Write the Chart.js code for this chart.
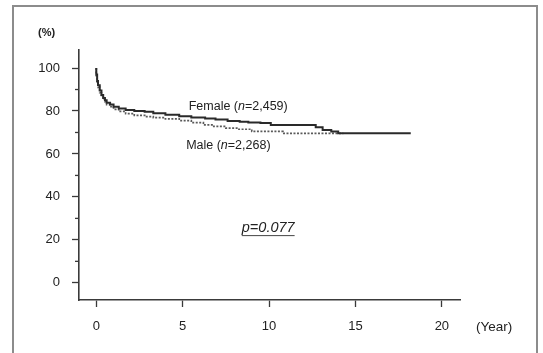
<!DOCTYPE html>
<html>
<head>
<meta charset="utf-8">
<script src="https://cdn.jsdelivr.net/npm/chart.js@4.4.1/dist/chart.umd.min.js"></script>
<style>
  body { margin: 0; background: #fff; }
  #wrap { position: relative; width: 543px; height: 353px; overflow: hidden; }
  #frame { position: absolute; left: 12px; top: 5px; width: 522px; height: 360px; border: 2px solid #8c8c8c; }
  canvas { position: absolute; left: 0; top: 0; }
</style>
</head>
<body>
<div id="wrap">
  <div id="frame"></div>
  <canvas id="kmChart" width="543" height="353"></canvas>
</div>
<script>
// survival curves (years, % surviving)
const femaleYears = [0, 0.05, 0.1, 0.2, 0.3, 0.4, 0.5, 0.6, 0.8, 1.0, 1.3, 1.7, 2.2, 2.8, 3.3, 4.0, 4.8, 5.5, 6.3, 6.9, 7.6, 8.3, 8.8, 9.5, 10.1, 12.7, 13.1, 13.6, 14.0, 14.3, 18.2];
const femaleSurvival = [100, 97, 94, 92, 89.5, 87.5, 86, 85, 83.8, 83, 82, 81.2, 80.5, 80.0, 79.6, 79.0, 78.2, 77.6, 77.0, 76.5, 76.0, 75.4, 75.0, 74.7, 74.4, 73.5, 72.4, 71.2, 70.4, 69.6, 69.6];
const maleYears = [0, 0.05, 0.1, 0.2, 0.3, 0.4, 0.5, 0.6, 0.8, 1.0, 1.3, 1.7, 2.2, 2.8, 3.3, 4.0, 4.8, 5.5, 6.2, 6.8, 7.5, 8.2, 9.0, 10.8, 11.0, 14.3];
const maleSurvival = [100, 96.5, 93.5, 91, 88.5, 86.8, 85.5, 84.3, 83, 82, 80.8, 79.8, 78.8, 78.0, 77.4, 76.9, 76.3, 75.5, 74.6, 73.5, 72.8, 72.0, 71.5, 70.5, 69.6, 69.6];

const xTickValues = [0, 5, 10, 15, 20];
const yTickValues = [0, 10, 20, 30, 40, 50, 60, 70, 80, 90, 100];
const yLabelEvery = 20;

const toPoints = (xs, ys) => xs.map((x, i) => ({ x: x, y: ys[i] }));

const textColor = '#222';
const axisColor = '#3a3a3a';
const fontFamily = '"Liberation Sans", Arial, sans-serif';

// labels written into the plot, plus short minor ticks on the y axis
const annotations = {
  id: 'annotations',
  afterDraw(chart) {
    const ctx = chart.ctx;
    const xs = chart.scales.x;
    const ys = chart.scales.y;
    ctx.save();
    ctx.fillStyle = textColor;
    ctx.textBaseline = 'middle';

    // minor ticks
    ctx.strokeStyle = axisColor;
    ctx.lineWidth = 1.3;
    yTickValues.filter(v => v % yLabelEvery !== 0).forEach(v => {
      const py = ys.getPixelForValue(v);
      ctx.beginPath();
      ctx.moveTo(ys.right - 4, py);
      ctx.lineTo(ys.right, py);
      ctx.stroke();
    });

    const drawLabel = (x, y, name, n) => {
      let px = xs.getPixelForValue(x);
      const py = ys.getPixelForValue(y);
      ctx.textAlign = 'left';
      ctx.font = '12.5px ' + fontFamily;
      ctx.fillText(name + ' (', px, py);
      px += ctx.measureText(name + ' (').width;
      ctx.font = 'italic 12.5px ' + fontFamily;
      ctx.fillText('n', px, py);
      px += ctx.measureText('n').width;
      ctx.font = '12.5px ' + fontFamily;
      ctx.fillText('=' + n + ')', px, py);
    };
    drawLabel(5.35, 82, 'Female', '2,459');
    drawLabel(5.2, 63.9, 'Male', '2,268');

    // p value
    ctx.font = 'italic 14.5px ' + fontFamily;
    ctx.textAlign = 'center';
    const cx = xs.getPixelForValue(9.95);
    const cy = ys.getPixelForValue(25.7);
    ctx.fillText('p=0.077', cx, cy);
    const w = ctx.measureText('p=0.077').width;
    ctx.strokeStyle = '#444';
    ctx.lineWidth = 1;
    ctx.beginPath();
    ctx.moveTo(cx - w / 2, cy + 8);
    ctx.lineTo(cx + w / 2, cy + 8);
    ctx.stroke();

    // axis units
    ctx.font = '13.5px ' + fontFamily;
    ctx.textAlign = 'left';
    ctx.fillText('(Year)', 476, 327);
    ctx.font = 'bold 11px ' + fontFamily;
    ctx.fillText('(%)', 38, 33);
    ctx.restore();
  }
};

new Chart(document.getElementById('kmChart').getContext('2d'), {
  type: 'line',
  data: {
    datasets: [{
      label: 'Female',
      data: toPoints(femaleYears, femaleSurvival),
      borderColor: '#2a2a2a',
      borderWidth: 2,
      stepped: 'after',
      pointRadius: 0,
      fill: false
    }, {
      label: 'Male',
      data: toPoints(maleYears, maleSurvival),
      borderColor: '#5a5a5a',
      borderWidth: 1.7,
      borderDash: [2, 1.5],
      stepped: 'after',
      pointRadius: 0,
      fill: false
    }]
  },
  options: {
    responsive: false,
    animation: false,
    layout: { padding: { left: 0, top: 50, right: 83, bottom: 13 } },
    plugins: { legend: { display: false }, tooltip: { enabled: false } },
    scales: {
      x: {
        type: 'linear',
        min: -1,
        max: 21.05,
        afterBuildTicks: axis => { axis.ticks = xTickValues.map(v => ({ value: v })); },
        afterFit: scale => { scale.height = 40; },
        grid: { drawOnChartArea: false, drawTicks: true, tickLength: 7, tickColor: axisColor, tickWidth: 1.3 },
        border: { color: axisColor, width: 1.6 },
        ticks: { color: textColor, padding: 12, maxRotation: 0, font: { size: 13, family: fontFamily } }
      },
      y: {
        min: -8,
        max: 108.4,
        afterBuildTicks: axis => { axis.ticks = yTickValues.map(v => ({ value: v })); },
        afterFit: scale => { scale.width = 79; },
        grid: {
          drawOnChartArea: false,
          drawTicks: true,
          tickLength: 7,
          tickWidth: 1.3,
          tickColor: c => (c.tick && c.tick.value % yLabelEvery === 0) ? axisColor : 'rgba(0,0,0,0)'
        },
        border: { color: axisColor, width: 1.6 },
        ticks: {
          color: textColor,
          padding: 12,
          autoSkip: false,
          font: { size: 13, family: fontFamily },
          callback: v => (v % yLabelEvery === 0 ? v : '')
        }
      }
    }
  },
  plugins: [annotations]
});
</script>
</body>
</html>
